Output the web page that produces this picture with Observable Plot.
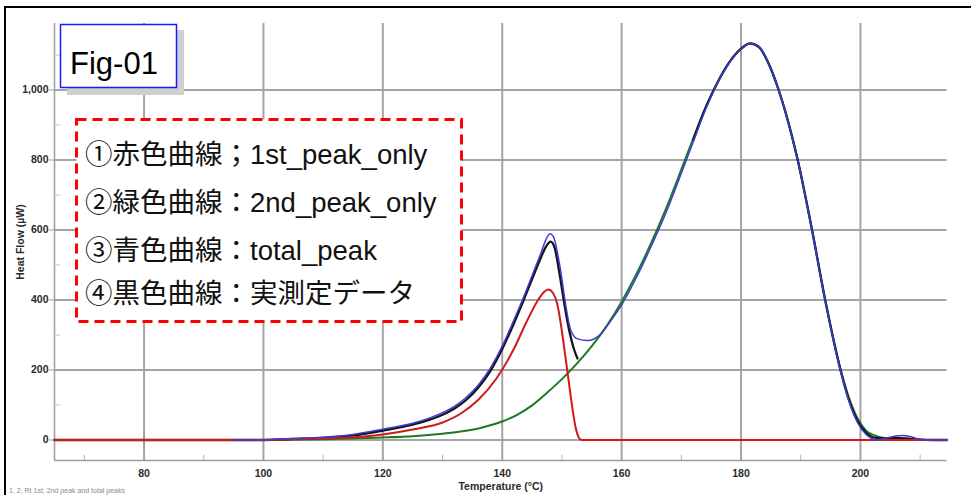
<!DOCTYPE html>
<html>
<head>
<meta charset="utf-8">
<script src="https://cdn.jsdelivr.net/npm/d3@7"></script>
<script src="https://cdn.jsdelivr.net/npm/@observablehq/plot@0.6"></script>
<style>
  html, body { margin: 0; padding: 0; background: #fff; }
  body { width: 971px; height: 495px; position: relative; overflow: hidden; }
  #chart { position: absolute; left: 0; top: 0; }
  #frame { position: absolute; left: 4px; top: 6px; width: 1100px; height: 700px;
           border-left: 2px solid #000; border-top: 2px solid #000; pointer-events: none; }
  #notes { position: absolute; left: 0; top: 0; pointer-events: none; }
  #foot { position: absolute; left: 9px; top: 487px; font: 7px "Liberation Sans", Arial, sans-serif; color: #8a8a8a; }
</style>
</head>
<body>
<div id="chart"></div>
<svg id="notes" width="971" height="495"></svg>
<div id="frame"></div>
<div id="foot">1, 2, Rt 1st, 2nd peak and total peaks</div>
<script>
// Axis ticks
const xMajor = [80, 100, 120, 140, 160, 180, 200];
const xMinor = [70, 90, 110, 130, 150, 170, 190, 210];
const yMajor = [0, 200, 400, 600, 800, 1000];
const yMinor = [100, 300, 500, 700, 900, 1100];
const xDomain = [65, 214.5];
const yDomain = [-58.6, 1190];

// ① 1st_peak_only (red)
const redT = [65, 100, 105, 110, 115, 120, 125, 130, 133, 136, 139, 142, 144, 146, 147, 147.7, 148.5, 149.2, 150, 150.6, 151.2, 151.8, 152.3, 152.8, 153.3, 160, 214.5];
const redV = [0, 0, 2, 4, 8, 16, 30, 50, 75, 115, 175, 262, 335, 400, 423, 430, 420, 390, 310, 235, 160, 85, 35, 8, 0, 0, 0];

// ② 2nd_peak_only (green)
const greenT = [100, 110, 115, 120, 125, 130, 133, 136, 138, 140, 142.5, 145, 147.5, 150, 152.5, 155, 157.5, 160, 162.5, 165, 167.5, 170, 172, 174, 175, 176, 178, 180, 181.5, 183, 184.5, 186.3, 187.5, 189.5, 191.9, 194.1, 196.7, 198, 199.5, 201, 202.5, 204, 206, 208];
const greenV = [0, 2, 4, 7, 11, 18, 24, 33, 42, 53, 72, 99, 135, 174, 218, 268, 326, 395, 475, 565, 664, 773, 862, 948, 985, 1020, 1078, 1117, 1132, 1122, 1080, 1000, 935, 800, 600, 400, 200, 125, 62, 26, 12, 5, 1, 0];

// ③ total_peak (blue)
const blueT = [95, 100, 105, 110, 115, 120, 125, 128, 130, 132, 134, 136, 138, 140, 142, 143.5, 145, 146.5, 147.3, 148, 148.6, 149.3, 150, 150.5, 151.5, 152.6, 154.3, 156.5, 158.2, 160, 162.5, 165, 167.5, 170, 172, 174, 175, 176, 178, 180, 181.5, 183, 184.5, 186.3, 187.5, 189.5, 191.9, 194.1, 196.7, 198, 199.5, 201, 202.6, 204, 205.5, 207, 208.5, 210, 212, 214.5];
const blueV = [0, 1, 4, 8, 16, 31, 48, 64, 78, 96, 122, 157, 205, 268, 345, 405, 470, 535, 572, 589, 580, 530, 460, 400, 313, 289, 284, 303, 341, 386, 465, 555, 652, 762, 852, 942, 982, 1018, 1077, 1117, 1133, 1124, 1080, 1000, 932, 798, 598, 398, 195, 115, 50, 15, 1, 4, 10, 13, 9, 2, 0, 0];

// ④ measured data (black); not visible where the green fit covers it
const blackT = [65, 100, 105, 110, 115, 120, 125, 128, 130, 132, 134, 136, 138, 140, 142, 143.4, 145, 146.5, 147.3, 148.1, 148.8, 149.5, 150.3, 150.9, 151.6, 152.1, 152.6, 162, 172, 174, 175, 176, 178, 180, 181.5, 183, 184.5, 186.3, 187.5, 189.5, 191.9, 194.1, 196.7, 198, 199.5, 201, 202.6, 204, 206, 208, 210, 212, 214.5];
const blackV = [0, 0, 3, 6, 13, 27, 44, 59, 72, 90, 115, 150, 197, 260, 335, 392, 460, 522, 552, 567, 548, 485, 400, 340, 285, 255, 233, null, 858, 946, 984, 1019, 1078, 1118, 1133, 1123, 1080, 1000, 933, 799, 599, 399, 197, 118, 55, 20, 6, 5, 6, 4, 1, 0, 0];

const pts = (T, V) => T.map((t, i) => ({t, v: V[i]}));
const lineOpts = (color, w) => ({x: "t", y: "v", stroke: color, strokeWidth: w, curve: "monotone-x"});
const gridColor = "#a4a4a4";

const chart = Plot.plot({
  width: 971,
  height: 495,
  marginLeft: 54,
  marginRight: 24.5,
  marginTop: 23,
  marginBottom: 35,
  style: {fontFamily: "'Liberation Sans', Arial, sans-serif", background: "transparent", color: "#2a2a2a"},
  x: {domain: xDomain},
  y: {domain: yDomain},
  marks: [
    Plot.ruleX(xMajor, {stroke: gridColor, strokeWidth: 2}),
    Plot.ruleY(yMajor, {stroke: gridColor, strokeWidth: 2}),
    Plot.ruleX([xDomain[0]], {stroke: "#9c9c9c", strokeWidth: 1.5}),
    Plot.ruleY([yDomain[0]], {stroke: "#9c9c9c", strokeWidth: 1.5}),
    Plot.ruleX(xMinor, {y1: yDomain[0], y2: yDomain[0] + 15, stroke: "#b4b4b4", strokeWidth: 1}),
    Plot.ruleY(yMinor, {x1: xDomain[0], x2: xDomain[0] + 1, stroke: "#c4c4c4", strokeWidth: 1}),
    Plot.axisY(yMajor, {
      tickSize: 5, tickPadding: 1, stroke: "#9c9c9c", fill: "#2a2a2a",
      tickFormat: d3.format(","), fontWeight: "bold", fontSize: 10.5,
      label: "Heat Flow (µW)", labelAnchor: "center", labelArrow: "none", labelOffset: 38
    }),
    Plot.axisX(xMajor, {
      tickSize: 0, tickPadding: 9, fill: "#2a2a2a",
      fontWeight: "bold", fontSize: 10.5,
      label: "Temperature (°C)", labelAnchor: "center", labelArrow: "none", labelOffset: 29
    }),
    Plot.line(pts(greenT, greenV), lineOpts("#1d7a22", 2)),
    Plot.line(pts(blackT, blackV), lineOpts("#151515", 2.3)),
    Plot.line(pts(redT, redV), lineOpts("#d01a1a", 2)),
    Plot.line(pts(blueT, blueV), lineOpts("#3b3bd6", 1.5))
  ]
});
document.getElementById("chart").append(chart);

// Annotation boxes: figure tag and legend
const ns = "http://www.w3.org/2000/svg";
const notes = document.getElementById("notes");
function el(tag, attrs, text) {
  const e = document.createElementNS(ns, tag);
  for (const k in attrs) e.setAttribute(k, attrs[k]);
  if (text) e.textContent = text;
  notes.append(e);
  return e;
}
// figure tag with drop shadow
el("rect", {x: 67, y: 30, width: 117, height: 65, fill: "#cfcfcf"});
el("rect", {x: 60.5, y: 24.5, width: 116, height: 63, fill: "#fff", stroke: "#1a1aff", "stroke-width": 1.5});
el("text", {x: 70, y: 74, "font-family": "'Liberation Sans', Arial, sans-serif", "font-size": 31, fill: "#000"}, "Fig-01");

// legend with dashed red border
const legendLines = [
  "①赤色曲線；1st_peak_only",
  "②緑色曲線：2nd_peak_only",
  "③青色曲線：total_peak",
  "④黒色曲線：実測定データ"
];
const legendBase = [164, 212, 260, 303];
el("rect", {x: 76.5, y: 119.5, width: 385, height: 202, fill: "#fff", stroke: "#ff0000", "stroke-width": 3, "stroke-dasharray": "10 6"});
legendLines.forEach((s, i) => {
  el("text", {x: 85, y: legendBase[i], "font-family": "'Liberation Sans', Arial, 'Noto Sans CJK JP', sans-serif", "font-size": 27.5, fill: "#111"}, s);
});
</script>
</body>
</html>
